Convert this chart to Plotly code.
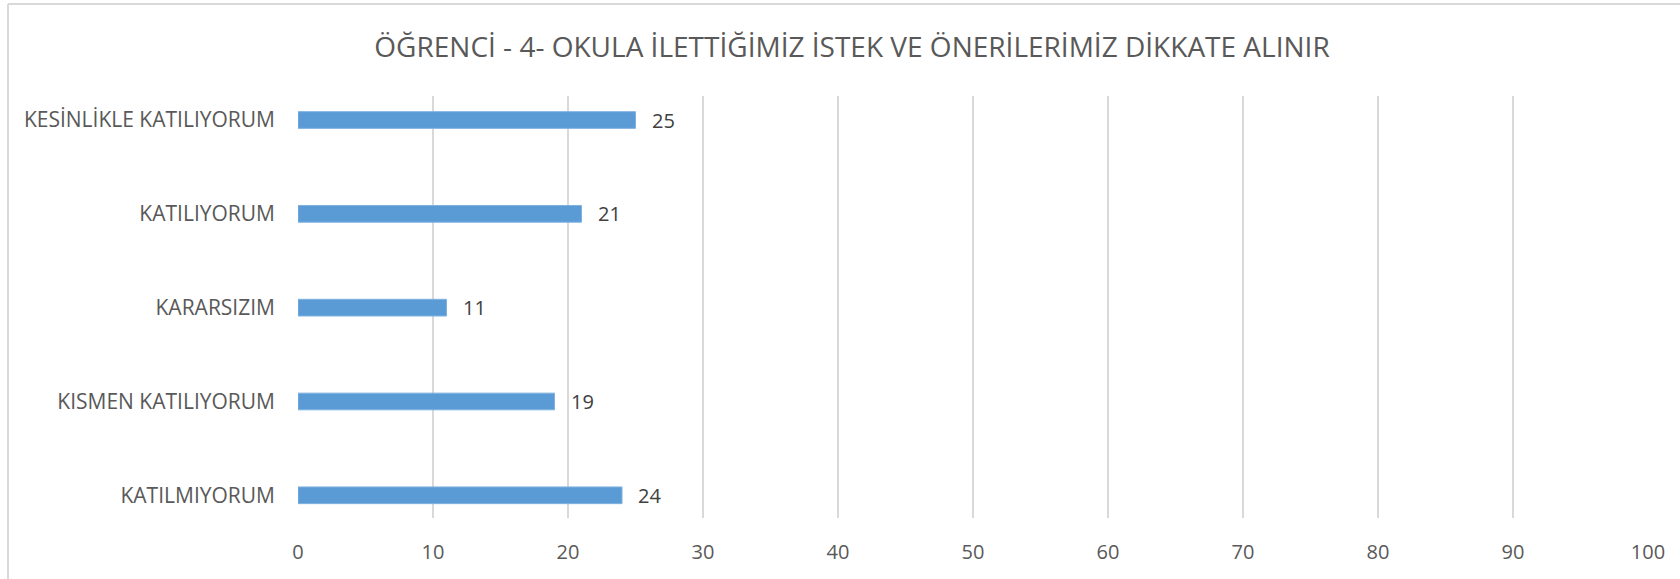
import plotly.graph_objects as go

categories = ["KATILMIYORUM", "KISMEN KATILIYORUM", "KARARSIZIM", "KATILIYORUM", "KESİNLİKLE KATILIYORUM"]
values = [24, 19, 11, 21, 25]
x_ticks = [0, 10, 20, 30, 40, 50, 60, 70, 80, 90, 100]
title_text = "ÖĞRENCİ - 4- OKULA İLETTİĞİMİZ İSTEK VE ÖNERİLERİMİZ DİKKATE ALINIR"

FONT = "Open Sans"
GRAY = "#595959"

fig = go.Figure()
fig.add_trace(go.Bar(
    y=categories, x=values, orientation="h", width=0.178,
    marker=dict(color="#5b9bd5", line=dict(color="#7fb2e0", width=1)),
    hoverinfo="x+y",
))

for c, v in zip(categories, values):
    fig.add_annotation(x=v, y=c, text=str(v), showarrow=False, xanchor="left",
                       xshift=14, font=dict(family=FONT, size=20, color="#404040"))

# chart border (left and top)
fig.add_shape(type="line", xref="paper", yref="paper",
              x0=(8 - 298) / 1350, x1=(1685 - 298) / 1350,
              y0=(518 - 4) / 422, y1=(518 - 4) / 422,
              line=dict(color="#d9d9d9", width=2))
fig.add_shape(type="line", xref="paper", yref="paper",
              x0=(8 - 298) / 1350, x1=(8 - 298) / 1350,
              y0=(518 - 4) / 422, y1=(518 - 585) / 422,
              line=dict(color="#d9d9d9", width=2))

fig.update_layout(
    width=1680, height=579,
    margin=dict(l=298, r=32, t=96, b=61),
    paper_bgcolor="white", plot_bgcolor="white",
    showlegend=False,
    title=dict(text=title_text, x=852 / 1680, xanchor="center",
               y=1 - 47 / 579, yanchor="middle",
               font=dict(family=FONT, size=28, color=GRAY)),
    xaxis=dict(range=[0, 100], tickvals=x_ticks, showgrid=True, gridcolor="#d9d9d9",
               gridwidth=1.5, zeroline=False, showline=False, ticks="",
               ticklabelstandoff=20,
               tickfont=dict(family=FONT, size=20, color=GRAY)),
    yaxis=dict(type="category", categoryorder="array", categoryarray=categories,
               range=[-0.242, 4.256], showgrid=False, zeroline=False, showline=False,
               ticks="", ticklabelstandoff=22,
               tickfont=dict(family=FONT, size=21, color=GRAY)),
)

fig.write_html("out.html", config={"displayModeBar": False},
               post_script="document.body.style.margin='0';document.body.style.overflow='hidden';")
